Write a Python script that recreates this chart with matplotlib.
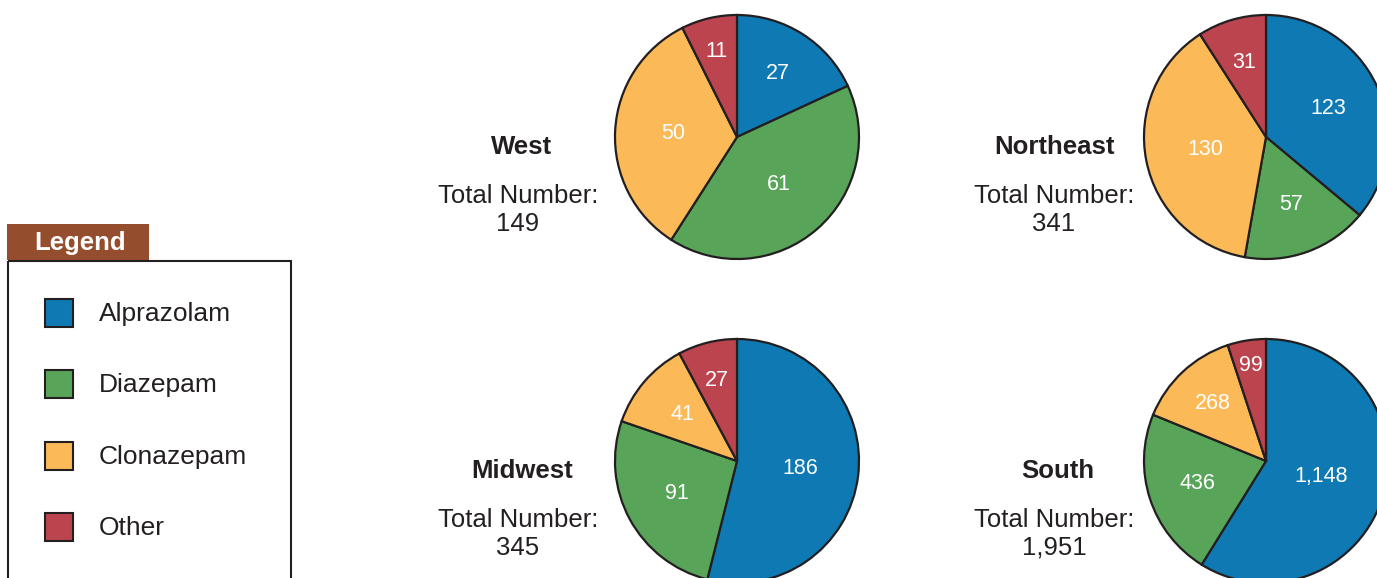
import matplotlib
matplotlib.use('Agg')
import matplotlib.pyplot as plt
from matplotlib.patches import Rectangle

plt.rcParams['font.family'] = ['Liberation Sans', 'DejaVu Sans']

drugs = ['Alprazolam', 'Diazepam', 'Clonazepam', 'Other']
colors = ['#0F79B4', '#58A55A', '#FBB958', '#BC444F']

regions = ['West', 'Northeast', 'Midwest', 'South']
west = [27, 61, 50, 11]
northeast = [123, 57, 130, 31]
midwest = [186, 91, 41, 27]
south = [1148, 436, 268, 99]
values = [west, northeast, midwest, south]

W, H = 1377, 578
dark = '#231F20'

# pie centres / title positions in image pixels, and label radial fractions
centres = [(737, 137), (1266, 137), (737, 461), (1266, 461)]
title_x = [522, 1055, 522, 1058]
text_x = [518, 1054, 518, 1054]
label_r = [[0.62, 0.52, 0.52, 0.72],
           [0.56, 0.59, 0.51, 0.64],
           [0.52, 0.56, 0.59, 0.68],
           [0.47, 0.59, 0.64, 0.79]]
R = 122

fig = plt.figure(figsize=(W / 100, H / 100), dpi=100)
bg = fig.add_axes([0, 0, 1, 1])
bg.set_xlim(0, W)
bg.set_ylim(H, 0)
bg.axis('off')

pad = 1.03
for name, vals, (cx, cy), tx, nx, lr in zip(regions, values, centres, title_x, text_x, label_r):
    ax = fig.add_axes([(cx - R * pad) / W, 1 - (cy + R * pad) / H, 2 * R * pad / W, 2 * R * pad / H])
    wedges, texts = ax.pie(vals, colors=colors, startangle=90, counterclock=False,
                           labels=[f'{v:,}' for v in vals], labeldistance=1.0,
                           wedgeprops=dict(edgecolor=dark, linewidth=1.6),
                           textprops=dict(color='white', fontsize=15.5, ha='center', va='center'))
    for t, f in zip(texts, lr):
        x, y = t.get_position()
        t.set_position((x * f, y * f))
    ax.set_xlim(-pad, pad)
    ax.set_ylim(-pad, pad)
    ax.axis('off')
    bg.text(tx, cy + 10, name, fontsize=18.5, fontweight='bold', color=dark, ha='center', va='center')
    bg.text(nx, cy + 59, 'Total Number:', fontsize=18.5, color=dark, ha='center', va='center')
    bg.text(nx, cy + 87, f'{sum(vals):,}', fontsize=18.5, color=dark, ha='center', va='center')

# legend
bg.add_patch(Rectangle((7, 224), 142, 36, facecolor='#954E2D', edgecolor='none'))
bg.text(80, 243, 'Legend', fontsize=18.5, fontweight='bold', color='white', ha='center', va='center')
bg.add_patch(Rectangle((8, 261), 283, 340, facecolor='none', edgecolor=dark, linewidth=1.5, clip_on=False))
for i, (d, c) in enumerate(zip(drugs, colors)):
    yc = 313 + 71.3 * i
    bg.add_patch(Rectangle((45, yc - 14), 28, 28, facecolor=c, edgecolor=dark, linewidth=1.5))
    bg.text(99, yc + 1, d, fontsize=19, color=dark, ha='left', va='center')

fig.savefig('out.png', dpi=100)
